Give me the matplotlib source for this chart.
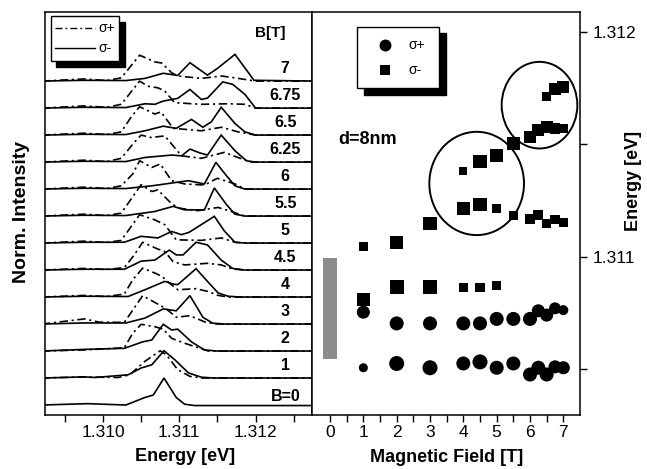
import matplotlib
matplotlib.use("Agg")
import matplotlib.pyplot as plt
from matplotlib.patches import Ellipse, Rectangle
from matplotlib.lines import Line2D

plt.rcParams['font.family'] = ['Liberation Sans', 'DejaVu Sans']

# ---------------- PL spectra: (energy [eV], normalized intensity) ----------------
minus_b0 = [(1.30920, 0.00), (1.30980, 0.05), (1.31030, 0.00), (1.31055, 0.28), (1.31066, 0.37),
            (1.31080, 1.00), (1.31096, 0.28), (1.31107, 0.03), (1.31120, -0.02), (1.31280, -0.02)]
minus_b1 = [(1.30920, 0), (1.30975, 0.04), (1.30990, 0.02), (1.31033, 0.12), (1.31050, 0.37),
            (1.31064, 0.49), (1.31080, 1.01), (1.31094, 0.68), (1.31112, 0.19), (1.31129, 0.03),
            (1.31145, 0), (1.31280, 0)]
plus_b1 = [(1.30920, 0), (1.30975, 0.04), (1.31020, 0.02), (1.31035, 0.12), (1.31055, 0.62),
           (1.31075, 1.01), (1.31083, 0.86), (1.31098, 0.31), (1.31114, 0.06), (1.31130, 0), (1.31280, 0)]
minus_b2 = [(1.30920, 0), (1.30975, 0.06), (1.31028, 0.10), (1.31052, 0.34), (1.31064, 0.41),
            (1.31079, 0.99), (1.31090, 0.78), (1.31098, 0.81), (1.31116, 0.34), (1.31133, 0.04),
            (1.31150, 0), (1.31280, 0)]
plus_b2 = [(1.30920, 0), (1.30975, 0.04), (1.31028, 0.12), (1.31039, 0.66), (1.31050, 0.99),
           (1.31068, 0.90), (1.31079, 0.81), (1.31090, 0.47), (1.31107, 0.29), (1.31125, 0.12),
           (1.31138, 0), (1.31280, 0)]
minus_b3 = [(1.30920, 0), (1.30975, 0.04), (1.31030, 0.04), (1.31055, 0.22), (1.31079, 0.56),
            (1.31096, 0.49), (1.31114, 1.05), (1.31131, 0.25), (1.31144, 0.03), (1.31160, 0), (1.31280, 0)]
plus_b3 = [(1.30920, 0), (1.30976, 0.19), (1.30995, 0.07), (1.31028, 0.06), (1.31052, 1.05),
           (1.31068, 0.80), (1.31083, 0.56), (1.31096, 0.25), (1.31114, 0.31), (1.31135, 0.06),
           (1.31150, 0), (1.31280, 0)]
minus_b4 = [(1.30920, 0), (1.30975, 0.03), (1.31033, 0.02), (1.31055, 0.27), (1.31081, 0.58),
            (1.31092, 0.48), (1.31098, 0.46), (1.31122, 1.05), (1.31137, 0.58), (1.31151, 0.15),
            (1.31164, 0.03), (1.31180, 0), (1.31280, 0)]
plus_b4 = [(1.30920, 0), (1.30975, 0.06), (1.31005, 0.02), (1.31028, 0.11), (1.31039, 0.64),
           (1.31052, 1.07), (1.31068, 0.89), (1.31077, 0.77), (1.31087, 0.52), (1.31098, 0.27),
           (1.31122, 0.31), (1.31137, 0.21), (1.31151, 0.06), (1.31164, 0), (1.31280, 0)]
minus_b45 = [(1.30920, 0), (1.30975, 0.03), (1.31028, 0.03), (1.31050, 0.33), (1.31068, 0.37),
             (1.31087, 0.74), (1.31096, 0.56), (1.31105, 0.56), (1.31122, 1.03), (1.31137, 0.93),
             (1.31155, 0.37), (1.31170, 0.06), (1.31186, 0), (1.31280, 0)]
plus_b45 = [(1.30920, 0), (1.30975, 0.06), (1.31005, 0.02), (1.31028, 0.09), (1.31041, 0.56),
            (1.31052, 1.03), (1.31070, 0.80), (1.31081, 0.68), (1.31092, 0.31), (1.31107, 0.19),
            (1.31137, 0.25), (1.31155, 0.19), (1.31170, 0.04), (1.31186, 0), (1.31280, 0)]
minus_b5 = [(1.30920, 0), (1.30975, 0.03), (1.31028, 0.03), (1.31050, 0.25), (1.31072, 0.19),
            (1.31090, 0.43), (1.31103, 0.31), (1.31113, 0.40), (1.31146, 0.99), (1.31159, 0.45),
            (1.31173, 0.03), (1.31186, 0), (1.31280, 0)]
plus_b5 = [(1.30920, 0), (1.30975, 0.07), (1.31005, 0.02), (1.31024, 0.10), (1.31048, 1.05),
           (1.31068, 0.86), (1.31081, 0.68), (1.31096, 0.12), (1.31129, 0.10), (1.31155, 0.19),
           (1.31173, 0.03), (1.31186, 0), (1.31280, 0)]
minus_b55 = [(1.30920, 0), (1.30975, 0.03), (1.31030, 0.02), (1.31068, 0.17), (1.31092, 0.36),
             (1.31107, 0.23), (1.31133, 0.23), (1.31146, 1.04), (1.31162, 0.42), (1.31173, 0.07),
             (1.31186, 0), (1.31280, 0)]
plus_b55 = [(1.30920, 0), (1.30975, 0.07), (1.31005, 0.02), (1.31024, 0.11), (1.31050, 1.16),
            (1.31064, 0.91), (1.31072, 0.97), (1.31087, 0.54), (1.31098, 0.30), (1.31124, 0.20),
            (1.31151, 0.32), (1.31168, 0.17), (1.31186, 0), (1.31280, 0)]
minus_b6 = [(1.30920, 0), (1.30975, 0.03), (1.31030, 0.02), (1.31064, 0.12), (1.31112, 0.31),
            (1.31133, 0.19), (1.31148, 0.99), (1.31162, 0.49), (1.31173, 0.12), (1.31186, 0), (1.31280, 0)]
plus_b6 = [(1.30920, 0), (1.30975, 0.07), (1.31005, 0.02), (1.31024, 0.12), (1.31039, 0.56),
           (1.31048, 1.05), (1.31064, 0.80), (1.31075, 0.93), (1.31090, 0.31), (1.31107, 0.19),
           (1.31133, 0.15), (1.31150, 0.40), (1.31173, 0.19), (1.31186, 0), (1.31280, 0)]
minus_b625 = [(1.30920, 0), (1.30975, 0.03), (1.31030, 0.02), (1.31055, 0.17), (1.31090, 0.26),
              (1.31103, 0.23), (1.31114, 0.48), (1.31127, 0.34), (1.31137, 0.26), (1.31155, 1.00),
              (1.31173, 0.42), (1.31188, 0.05), (1.31200, 0), (1.31280, 0)]
plus_b625 = [(1.30920, 0), (1.30975, 0.07), (1.31005, 0.02), (1.31024, 0.14), (1.31041, 0.73),
             (1.31050, 1.00), (1.31063, 0.91), (1.31081, 0.97), (1.31092, 0.60), (1.31103, 0.23),
             (1.31129, 0.14), (1.31159, 0.36), (1.31177, 0.17), (1.31194, 0), (1.31280, 0)]
minus_b65 = [(1.30920, 0), (1.30975, 0.03), (1.31030, 0.02), (1.31055, 0.16), (1.31079, 0.33),
             (1.31096, 0.25), (1.31116, 0.58), (1.31131, 0.29), (1.31142, 0.49), (1.31155, 1.03),
             (1.31173, 0.43), (1.31186, 0.12), (1.31200, 0), (1.31280, 0)]
plus_b65 = [(1.30920, 0), (1.30975, 0.07), (1.31005, 0.02), (1.31024, 0.12), (1.31037, 0.67),
            (1.31048, 1.05), (1.31068, 0.78), (1.31076, 0.86), (1.31092, 0.25), (1.31129, 0.16),
            (1.31155, 0.29), (1.31177, 0.12), (1.31200, 0), (1.31280, 0)]
minus_b675 = [(1.30920, 0), (1.30975, 0.03), (1.31030, 0.02), (1.31055, 0.16), (1.31068, 0.14),
              (1.31079, 0.26), (1.31098, 0.36), (1.31114, 0.69), (1.31129, 0.32), (1.31137, 0.37),
              (1.31157, 0.97), (1.31170, 0.88), (1.31186, 0.51), (1.31200, 0), (1.31280, 0)]
plus_b675 = [(1.30920, 0), (1.30975, 0.08), (1.31005, 0.03), (1.31024, 0.14), (1.31048, 1.00),
             (1.31059, 0.81), (1.31072, 0.75), (1.31081, 0.63), (1.31094, 0.20), (1.31129, 0.14),
             (1.31164, 0.16), (1.31186, 0.14), (1.31200, 0), (1.31280, 0)]
minus_b7 = [(1.30920, 0), (1.30975, 0.03), (1.31030, 0.02), (1.31055, 0.10), (1.31079, 0.29),
            (1.31098, 0.21), (1.31114, 0.68), (1.31137, 0.22), (1.31150, 0.47), (1.31173, 0.99),
            (1.31198, 0.03), (1.31280, 0)]
plus_b7 = [(1.30920, 0), (1.30975, 0.08), (1.31005, 0.02), (1.31024, 0.12), (1.31048, 0.96),
           (1.31068, 0.71), (1.31077, 0.67), (1.31090, 0.31), (1.31098, 0.19), (1.31129, 0.10),
           (1.31155, 0.19), (1.31173, 0.12), (1.31200, 0), (1.31280, 0)]

field_labels = ["B=0", "1", "2", "3", "4", "4.5", "5", "5.5", "6", "6.25", "6.5", "6.75", "7"]
spectra_minus = [minus_b0, minus_b1, minus_b2, minus_b3, minus_b4, minus_b45, minus_b5,
                 minus_b55, minus_b6, minus_b625, minus_b65, minus_b675, minus_b7]
spectra_plus = [None, plus_b1, plus_b2, plus_b3, plus_b4, plus_b45, plus_b5,
                plus_b55, plus_b6, plus_b625, plus_b65, plus_b675, plus_b7]

# ---------------- peak energies vs magnetic field ----------------
sp_low_B = [1, 2, 3, 4, 4.5, 5, 5.5, 6, 6.25, 6.5, 6.75, 7]
sp_low_E = [1.310507, 1.310526, 1.310507, 1.310526, 1.310533, 1.310507,
            1.310526, 1.310477, 1.310507, 1.310477, 1.310511, 1.310507]
sp_high_B = [1, 2, 3, 4, 4.5, 5, 5.5, 6, 6.25, 6.5, 6.75, 7]
sp_high_E = [1.310754, 1.310704, 1.310704, 1.310704, 1.310704, 1.310724,
             1.310724, 1.310724, 1.310760, 1.310741, 1.310771, 1.310763]
sm_r1_B = [1, 2, 3, 4, 4.5, 5]
sm_r1_E = [1.310812, 1.310867, 1.310867, 1.310864, 1.310864, 1.310874]
sm_r2_B = [1, 2, 3, 4, 4.5, 5, 5.5, 6, 6.25, 6.5, 6.75, 7]
sm_r2_E = [1.311048, 1.311062, 1.311148, 1.311215, 1.311234, 1.311215,
           1.311185, 1.311166, 1.311185, 1.311148, 1.311166, 1.311153]
sm_r3_B = [4, 4.5, 5, 5.5, 6, 6.25, 6.5, 6.75, 7]
sm_r3_E = [1.311382, 1.311422, 1.311452, 1.311504, 1.311533, 1.311563,
           1.311578, 1.311571, 1.311571]
sm_r4_B = [6.5, 6.75, 7]
sm_r4_E = [1.311714, 1.311744, 1.311756]

# zero-field linewidth bar
bar_B = 0.0
bar_low_E = 1.310548
bar_high_E = 1.310993

# marker sizes (points)
sp_low_size = [6.5, 10.8, 10.8, 10.1, 10.8, 10.1, 10.1, 10.1, 10.1, 10.1, 9.4, 9.4]
sp_high_size = [9.4, 10.1, 10.1, 10.1, 10.1, 10.1, 10.1, 10.1, 9.4, 9.4, 8.6, 7.2]
sm_r1_size = [9.4, 10.1, 10.1, 6.5, 6.5, 6.5]
sm_r2_size = [6.5, 9.4, 9.4, 9.4, 9.4, 6.5, 6.5, 7.2, 7.2, 6.5, 6.5, 6.5]
sm_r3_size = [5.8, 9.4, 9.4, 9.4, 8.6, 8.6, 8.6, 7.9, 6.5]
sm_r4_size = [6.5, 8.6, 8.6]

W, H = 647, 469
fig = plt.figure(figsize=(W / 100, H / 100), dpi=100)
axL = fig.add_axes([45 / W, 54 / H, 267 / W, 403 / H])
axR = fig.add_axes([312 / W, 54 / H, 268 / W, 403 / H])

for ax in (axL, axR):
    for sp in ax.spines.values():
        sp.set_linewidth(1.1)

# ---------------- left panel: stacked spectra ----------------
base, step = 0.37, 1.0
dashdot = (0, (5, 2.2, 1.3, 2.2))
for i, lab in enumerate(field_labels):
    off = base + i * step
    e, v = zip(*spectra_minus[i])
    axL.plot(e, [x + off for x in v], color='black', lw=1.2, solid_joinstyle='miter')
    if spectra_plus[i] is not None:
        e, v = zip(*spectra_plus[i])
        axL.plot(e, [x + off for x in v], color='black', lw=1.2, linestyle=dashdot)
    lift = 0.45 if i else 0.33
    axL.text(1.31239, off + lift, lab, ha='center', va='center',
             fontsize=11.5, fontweight='bold')
axL.text(1.31219, 14.15, "B[T]", ha='center', va='center', fontsize=11, fontweight='bold')

axL.set_xlim(1.30924, 1.31274)
axL.set_ylim(0, 14.93)
xt = [1.3095, 1.3100, 1.3105, 1.3110, 1.3115, 1.3120, 1.3125]
axL.set_xticks(xt)
axL.set_xticklabels(['' if abs(t * 1000 - round(t * 1000)) > 1e-6 else f"{t:.3f}" for t in xt])
axL.set_yticks([])
axL.tick_params(axis='x', direction='out', length=5, width=1, labelsize=12.5, pad=2)

# left legend with drop shadow
lx0, lx1, ly0, ly1 = 0.021, 0.277, 0.878, 0.991
axL.add_patch(Rectangle((lx0 + 0.022, ly0 - 0.015), lx1 - lx0, ly1 - ly0,
                        transform=axL.transAxes, facecolor='black', edgecolor='black',
                        zorder=5, clip_on=False))
axL.add_patch(Rectangle((lx0, ly0), lx1 - lx0, ly1 - ly0, transform=axL.transAxes,
                        facecolor='white', edgecolor='black', lw=1.0, zorder=6, clip_on=False))
axL.add_line(Line2D([0.037, 0.187], [0.960, 0.960], transform=axL.transAxes, color='black',
                    lw=1.0, linestyle=dashdot, zorder=7))
axL.add_line(Line2D([0.037, 0.187], [0.911, 0.911], transform=axL.transAxes, color='black',
                    lw=1.0, zorder=7))
axL.text(0.199, 0.960, "σ+", transform=axL.transAxes, va='center', fontsize=10, zorder=7)
axL.text(0.199, 0.911, "σ-", transform=axL.transAxes, va='center', fontsize=10, zorder=7)

# ---------------- right panel: energies vs field ----------------
axR.bar(bar_B, bar_high_E - bar_low_E, bottom=bar_low_E, width=0.42, color='#8c8c8c', zorder=2)


def pts(sizes):
    return [s * s for s in sizes]


axR.scatter(sp_low_B, sp_low_E, s=pts(sp_low_size), marker='o', color='black', lw=0, zorder=3)
axR.scatter(sp_high_B, sp_high_E, s=pts(sp_high_size), marker='o', color='black', lw=0, zorder=3)
for bb, ee, ss in ((sm_r1_B, sm_r1_E, sm_r1_size), (sm_r2_B, sm_r2_E, sm_r2_size),
                   (sm_r3_B, sm_r3_E, sm_r3_size), (sm_r4_B, sm_r4_E, sm_r4_size)):
    axR.scatter(bb, ee, s=pts(ss), marker='s', color='black', lw=0, zorder=3)

axR.add_patch(Ellipse((4.40, 1.311326), 2.84, 0.000459, fill=False, edgecolor='black', lw=1.4, zorder=4))
axR.add_patch(Ellipse((6.285, 1.311674), 2.27, 0.000385, fill=False, edgecolor='black', lw=1.4, zorder=4))

axR.text(0.24, 1.31152, "d=8nm", ha='left', va='center', fontsize=13, fontweight='bold')

axR.set_xlim(-0.54, 7.5)
axR.set_ylim(1.310297, 1.312088)
bt = [0, 0.5, 1, 1.5, 2, 2.5, 3, 3.5, 4, 4.5, 5, 5.5, 6, 6.5, 7]
axR.set_xticks(bt)
axR.set_xticklabels([str(int(b)) if b == int(b) else '' for b in bt])
axR.tick_params(axis='x', direction='out', length=5, width=1, labelsize=12.5, pad=2)
et = [1.3105, 1.3110, 1.3115, 1.3120]
axR.yaxis.tick_right()
axR.set_yticks(et)
axR.set_yticklabels(['', '1.311', '', '1.312'])
axR.tick_params(axis='y', direction='out', length=5, width=1, labelsize=12.5, pad=4)

# right legend with drop shadow
rx0, rx1, ry0, ry1 = 0.168, 0.474, 0.811, 0.9635
axR.add_patch(Rectangle((rx0 + 0.025, ry0 - 0.0166), rx1 - rx0, ry1 - ry0,
                        transform=axR.transAxes, facecolor='black', edgecolor='black',
                        zorder=5, clip_on=False))
axR.add_patch(Rectangle((rx0, ry0), rx1 - rx0, ry1 - ry0, transform=axR.transAxes,
                        facecolor='white', edgecolor='black', lw=1.0, zorder=6, clip_on=False))
axR.scatter([0.272], [0.918], s=8.6 ** 2, marker='o', color='black', lw=0,
            transform=axR.transAxes, zorder=7, clip_on=False)
axR.scatter([0.272], [0.856], s=7.9 ** 2, marker='s', color='black', lw=0,
            transform=axR.transAxes, zorder=7, clip_on=False)
axR.text(0.36, 0.918, "σ+", transform=axR.transAxes, va='center', fontsize=10, zorder=7)
axR.text(0.36, 0.856, "σ-", transform=axR.transAxes, va='center', fontsize=10, zorder=7)

# axis titles
fig.text(22 / W, 1 - 212 / H, "Norm. Intensity", rotation=90, ha='center', va='center',
         fontsize=14, fontweight='bold')
fig.text(185 / W, 1 - 456 / H, "Energy [eV]", ha='center', va='center',
         fontsize=13, fontweight='bold')
fig.text(447 / W, 1 - 457 / H, "Magnetic Field [T]", ha='center', va='center',
         fontsize=13, fontweight='bold')
fig.text(633 / W, 1 - 181 / H, "Energy [eV]", rotation=90, ha='center', va='center',
         fontsize=13, fontweight='bold')

fig.savefig("out.png", dpi=100)
